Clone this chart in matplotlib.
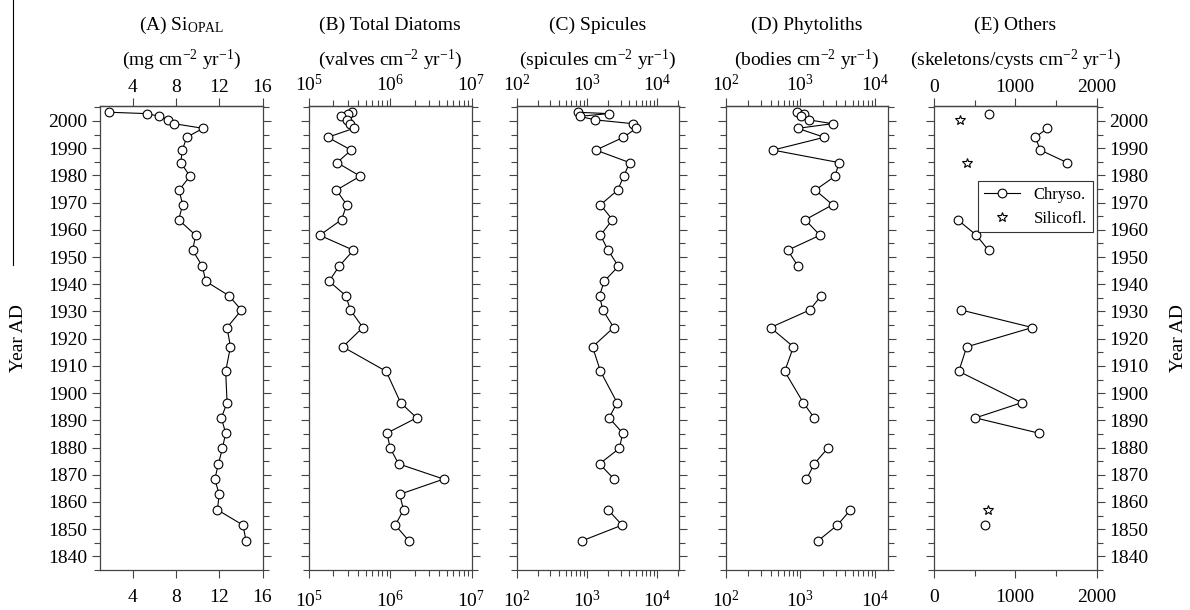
import numpy as np
import matplotlib
matplotlib.use('Agg')
import matplotlib.pyplot as plt
from matplotlib.ticker import FixedLocator, LogFormatterMathtext, NullFormatter, MultipleLocator
from matplotlib.lines import Line2D

plt.rcParams['font.family'] = ['Liberation Serif', 'DejaVu Serif']
plt.rcParams['mathtext.fontset'] = 'custom'
plt.rcParams['mathtext.rm'] = 'Liberation Serif'
plt.rcParams['mathtext.it'] = 'Liberation Serif:italic'

nan = np.nan

# sample years (AD), shared by all records
years = [2003.2, 2002.7, 2001.7, 2000.4, 1999.0, 1997.3, 1994.0, 1989.3, 1984.7,
         1979.7, 1974.6, 1969.2, 1963.7, 1958.0, 1952.5, 1946.6, 1941.1, 1935.8,
         1930.5, 1924.1, 1917.0, 1908.0, 1896.5, 1890.9, 1885.3, 1879.7, 1874.0,
         1868.4, 1862.8, 1857.1, 1851.5, 1845.7]

# (A) Si opal flux, mg cm-2 yr-1
si_opal = [1.86, 5.34, 6.48, 7.31, 7.83, 10.51, 9.0, 8.6, 8.45, 9.31, 8.3, 8.63,
           8.26, 9.83, 9.55, 10.45, 10.76, 12.9, 14.05, 12.73, 13.04, 12.6, 12.73,
           12.2, 12.6, 12.3, 11.93, 11.6, 12.0, 11.84, 14.2, 14.48]

# (B) total diatoms, log10 valves cm-2 yr-1
diatoms_log = [5.527, 5.477, 5.39, 5.465, 5.51, 5.552, 5.231, 5.519, 5.346, 5.63,
               5.337, 5.465, 5.40, 5.132, 5.547, 5.37, 5.247, 5.453, 5.51, 5.663,
               5.416, 5.95, 6.127, 6.325, 5.959, 6.0, 6.103, 6.658, 6.115, 6.164,
               6.062, 6.23]

# (C) spicules, log10 spicules cm-2 yr-1
spicules_log = [2.867, 3.306, 2.895, 3.117, 3.655, 3.70, 3.518, 3.126, 3.607, 3.522,
                3.437, 3.192, 3.362, 3.192, 3.30, 3.447, 3.245, 3.178, 3.225, 3.38,
                3.079, 3.192, 3.428, 3.315, 3.508, 3.461, 3.178, 3.386, nan, 3.30,
                3.50, 2.928]

# (D) phytoliths, log10 bodies cm-2 yr-1
phyto_log = [2.961, 3.055, 3.011, 3.113, 3.432, 2.965, 3.32, 2.633, 3.518, 3.464,
             3.20, 3.432, 3.065, 3.262, 2.83, 2.97, nan, 3.28, 3.123, 2.60, 2.907,
             2.79, 3.038, 3.186, nan, 3.365, 3.186, 3.082, nan, 3.671, 3.496, 3.235]

# (E) chrysophyte cysts and silicoflagellates
chryso = [nan, 671, nan, nan, nan, 1395, 1247, 1309, 1638, nan, nan, nan, 292, 522,
          671, nan, nan, nan, 337, 1210, 403, 305, 1082, 510, 1288, nan, nan, nan,
          nan, nan, 630, nan]
silico_years = [2000.4, 1984.7, 1857.1]
silico = [321, 407, 663]

title1 = ['(A) Si$_{\\rm OPAL}$', '(B) Total Diatoms', '(C) Spicules',
          '(D) Phytoliths', '(E) Others']
title2 = ['(mg cm$^{-2}$ yr$^{-1}$)', '(valves cm$^{-2}$ yr$^{-1}$)',
          '(spicules cm$^{-2}$ yr$^{-1}$)', '(bodies cm$^{-2}$ yr$^{-1}$)',
          '(skeletons/cysts cm$^{-2}$ yr$^{-1}$)']

# x limits and major ticks per panel
xlims = [(1, 16), (1e5, 1e7), (1e2, 2.05e4), (1e2, 1.5e4), (0, 2000)]
xticks = [[4, 8, 12, 16], [1e5, 1e6, 1e7], [1e2, 1e3, 1e4], [1e2, 1e3, 1e4],
          [0, 1000, 2000]]
logx = [False, True, True, True, False]

W, H = 1190, 610
fig = plt.figure(figsize=(W / 100, H / 100), dpi=100)

lefts = [100, 309, 516.7, 725.7, 934]
width = 162.5
top_px, bot_px = 106, 570
axes = []
for lx in lefts:
    ax = fig.add_axes([lx / W, (H - bot_px) / H, width / W, (bot_px - top_px) / H])
    axes.append(ax)

mk = dict(marker='o', markersize=6.3, markerfacecolor='white', markeredgecolor='black',
          markeredgewidth=0.8, color='black', linewidth=0.8)

yr = np.array(years)
axes[0].plot(si_opal, yr, **mk)
axes[1].plot(10 ** np.array(diatoms_log), yr, **mk)
axes[2].plot(10 ** np.array(spicules_log), yr, **mk)
axes[3].plot(10 ** np.array(phyto_log), yr, **mk)
axes[4].plot(chryso, yr, label='Chryso.', **mk)
axes[4].plot(silico, silico_years, linestyle='none', marker='*', markersize=7,
              markerfacecolor='white', markeredgecolor='black', markeredgewidth=0.8,
              label='Silicofl.')


def minor_ticks(i):
    lo, hi = xlims[i]
    if logx[i]:
        out = []
        for d in range(int(np.floor(np.log10(lo))), int(np.ceil(np.log10(hi))) + 1):
            for s in range(2, 10):
                v = s * 10.0 ** d
                if lo < v <= hi:
                    out.append(v)
        return out
    if i == 4:
        return [500, 1500]
    return []


def style_x(axis, i):
    axis.set_major_locator(FixedLocator(xticks[i]))
    axis.set_minor_locator(FixedLocator(minor_ticks(i)))
    if logx[i]:
        axis.set_major_formatter(LogFormatterMathtext())
    axis.set_minor_formatter(NullFormatter())


for i, ax in enumerate(axes):
    if logx[i]:
        ax.set_xscale('log')
    ax.set_xlim(*xlims[i])
    ax.set_ylim(1835, 2005.5)
    ax.yaxis.set_major_locator(MultipleLocator(10))
    ax.yaxis.set_minor_locator(MultipleLocator(5))
    style_x(ax.xaxis, i)
    ax.tick_params(axis='both', which='both', direction='out', top=False, bottom=True,
                   left=True, right=True, labeltop=False, labelbottom=True,
                   labelleft=(i == 0), labelright=(i == 4), labelsize=14,
                   color='#444444', width=0.8)
    ax.tick_params(which='major', length=6)
    ax.tick_params(which='minor', length=4)
    ax.tick_params(axis='x', which='major', pad=8)
    ax.tick_params(axis='y', which='major', pad=3)
    for s in ax.spines.values():
        s.set_color('#444444')
        s.set_linewidth(0.9)

    # top axis: same scale, its own label spacing
    sec = ax.secondary_xaxis('top')
    style_x(sec.xaxis, i)
    sec.tick_params(axis='x', which='both', direction='out', labelsize=14,
                    color='#444444', width=0.8)
    sec.tick_params(which='major', length=6, pad=1.5)
    sec.tick_params(which='minor', length=4)
    sec.spines['top'].set_color('#444444')
    sec.spines['top'].set_linewidth(0.9)

    # two-line panel heading
    ax.text(0.5, (bot_px - 30) / (bot_px - top_px), title1[i], transform=ax.transAxes,
            ha='center', va='baseline', fontsize=14)
    ax.text(0.5, (bot_px - 65) / (bot_px - top_px), title2[i], transform=ax.transAxes,
            ha='center', va='baseline', fontsize=14)

axes[0].set_ylabel('Year AD', fontsize=14, labelpad=15)
axes[4].yaxis.set_label_position('right')
axes[4].set_ylabel('Year AD', fontsize=14, labelpad=16)

leg = axes[4].legend(loc='upper right', bbox_to_anchor=(0.977, 0.838), fontsize=12,
                     frameon=True, fancybox=False, edgecolor='black',
                     handlelength=2.2, borderpad=0.35, labelspacing=0.45,
                     borderaxespad=0, handletextpad=0.8)
leg.get_frame().set_linewidth(0.8)

# stray rule at the left edge of the original figure
fig.add_artist(Line2D([13 / W, 13 / W], [1.0, (H - 265) / H], color='black', linewidth=0.8))

fig.savefig('out.png', dpi=100)
